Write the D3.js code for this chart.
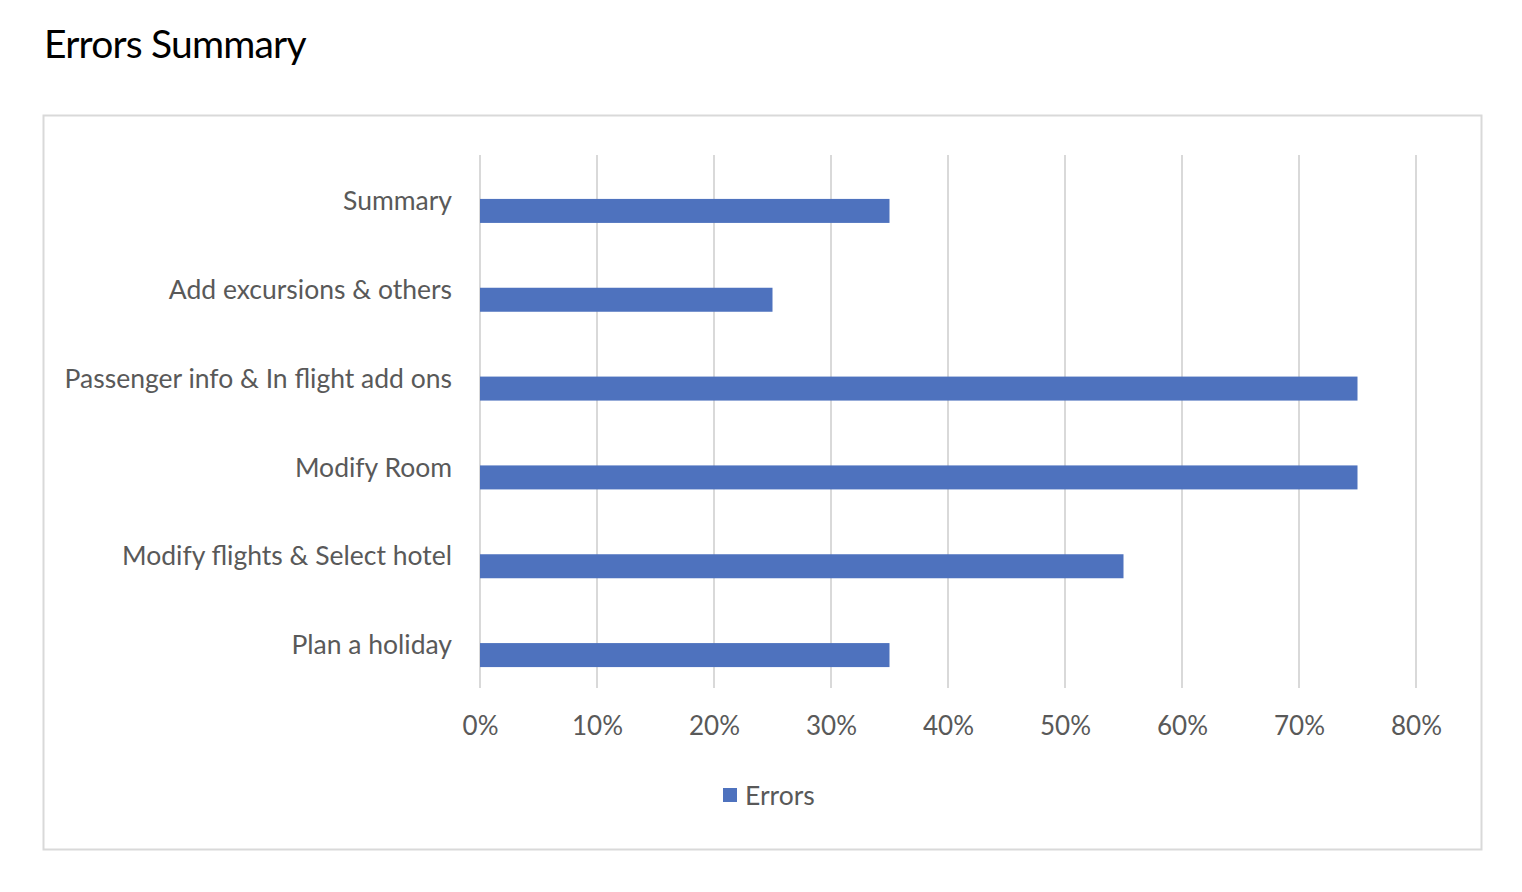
<!DOCTYPE html>
<html><head><meta charset="utf-8">
<script src="https://cdn.jsdelivr.net/npm/d3@7"></script>
<style>body{margin:0;background:#fff;} svg{display:block;}</style>
</head><body>
<script>
const categories = ["Summary","Add excursions & others","Passenger info & In flight add ons","Modify Room","Modify flights & Select hotel","Plan a holiday"];
const errors = [0.35,0.25,0.75,0.75,0.55,0.35];
const tickValues = [0,0.1,0.2,0.3,0.4,0.5,0.6,0.7,0.8];
const seriesName = "Errors";
const title = "Errors Summary";

const W=1522,H=892;
const svg=d3.select("body").append("svg").attr("width",W).attr("height",H);
const font="Lato, 'Open Sans', sans-serif";
svg.append("text").attr("x",44).attr("y",58).text(title)
  .attr("font-family",font).attr("font-size",39).attr("fill","#000").attr("letter-spacing","-0.8");
svg.append("rect").attr("x",43.5).attr("y",115.5).attr("width",1438).attr("height",734)
  .attr("fill","#fff").attr("stroke","#d9d9d9").attr("stroke-width",2);

const x=d3.scaleLinear().domain([0,0.8]).range([480,1416]);
const y=d3.scaleBand().domain(categories).range([155,688]);
const g=svg.append("g");
g.selectAll("line.grid").data(tickValues).enter().append("line")
  .attr("x1",d=>x(d)).attr("x2",d=>x(d)).attr("y1",155).attr("y2",688)
  .attr("stroke","#d9d9d9").attr("stroke-width",2);
g.selectAll("rect.bar").data(categories).enter().append("rect")
  .attr("x",x(0)).attr("y",d=>y(d)+y.bandwidth()/2-0.5)
  .attr("width",(d,i)=>x(errors[i])-x(0)).attr("height",24)
  .attr("fill","#4e72be");
g.selectAll("text.cat").data(categories).enter().append("text")
  .attr("x",452).attr("y",d=>y(d)+y.bandwidth()/2+4).attr("text-anchor","end")
  .attr("dominant-baseline","middle").text(d=>d)
  .attr("font-family",font).attr("font-size",26.5).attr("fill","#595959");
const xa=svg.append("g").attr("transform","translate(0,688)")
  .call(d3.axisBottom(x).tickValues(tickValues).tickFormat(d3.format(".0%")).tickSize(0).tickPadding(29));
xa.select(".domain").remove();
xa.selectAll("text").attr("font-family",font).attr("font-size",26).attr("fill","#595959");
svg.append("rect").attr("x",723).attr("y",788).attr("width",14).attr("height",14).attr("fill","#4e72be");
svg.append("text").attr("x",745).attr("y",798).attr("dominant-baseline","middle").text(seriesName)
  .attr("font-family",font).attr("font-size",26.5).attr("fill","#595959");
</script>
</body></html>
